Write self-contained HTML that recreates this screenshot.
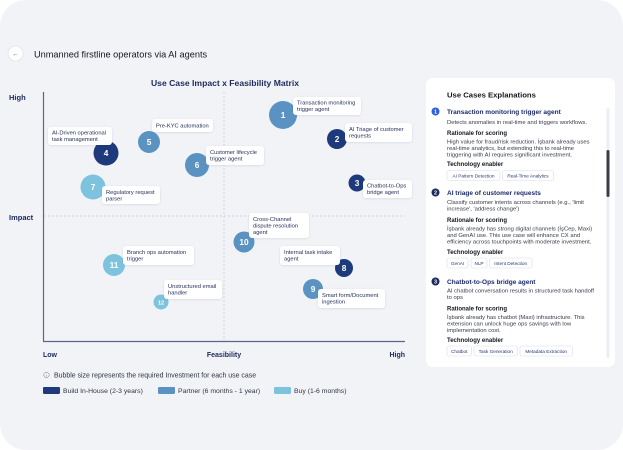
<!DOCTYPE html>
<html><head><meta charset="utf-8"><style>
html,body{margin:0;padding:0;background:#fff;}
svg{display:block;}
text{font-family:"Liberation Sans",sans-serif;}
</style></head><body>
<svg width="623" height="450" viewBox="0 0 623 450" xmlns="http://www.w3.org/2000/svg">
<defs>
<filter id="sh" x="-20%" y="-30%" width="140%" height="170%"><feDropShadow dx="0" dy="0.6" stdDeviation="1" flood-color="#1c2a5c" flood-opacity="0.12"/></filter>
</defs>
<rect x="0" y="0" width="623" height="450" rx="26" fill="#f2f3f7"/>

<!-- header -->
<circle cx="15.5" cy="53.5" r="7.5" fill="#fff" stroke="#dfe2ec" stroke-width="0.8"/>
<text x="15.5" y="56" font-size="6.5" fill="#4a5a9a" text-anchor="middle" font-weight="bold">←</text>
<text x="34" y="57.5" font-size="9.2" fill="#15171f">Unmanned firstline operators via AI agents</text>

<!-- chart title -->
<text x="225" y="86" font-size="8.6" font-weight="bold" fill="#1c2a5c" text-anchor="middle">Use Case Impact x Feasibility Matrix</text>

<!-- grid -->
<line x1="224" y1="92" x2="224" y2="341" stroke="#c5c9d6" stroke-width="0.7" stroke-dasharray="2,2"/>
<line x1="44" y1="216" x2="405" y2="216" stroke="#c5c9d6" stroke-width="0.7" stroke-dasharray="2,2"/>
<line x1="43.5" y1="92" x2="43.5" y2="341.5" stroke="#5d6588" stroke-width="1.2"/>
<line x1="43" y1="341.5" x2="405" y2="341.5" stroke="#5d6588" stroke-width="1.2"/>

<!-- axis labels -->
<text x="9" y="100" font-size="7.5" font-weight="bold" fill="#1c2a5c">High</text>
<text x="9" y="220" font-size="7.5" font-weight="bold" fill="#1c2a5c">Impact</text>
<text x="43" y="357" font-size="7" font-weight="bold" fill="#1c2a5c">Low</text>
<text x="224" y="357" font-size="7" font-weight="bold" fill="#1c2a5c" text-anchor="middle">Feasibility</text>
<text x="405" y="357" font-size="7" font-weight="bold" fill="#1c2a5c" text-anchor="end">High</text>

<!-- bubbles -->
<g>
<circle cx="283" cy="115" r="14" fill="#5a93c2"/>
<circle cx="337" cy="139" r="10" fill="#1e3a7b"/>
<circle cx="357" cy="183" r="8.5" fill="#1e3a7b"/>
<circle cx="106" cy="153" r="12.5" fill="#1e3a7b"/>
<circle cx="149" cy="142" r="11" fill="#5a93c2"/>
<circle cx="197" cy="165" r="12" fill="#5a93c2"/>
<circle cx="93" cy="187" r="12.5" fill="#7ec3de"/>
<circle cx="344" cy="268" r="9" fill="#1e3a7b"/>
<circle cx="313" cy="289" r="10" fill="#5a93c2"/>
<circle cx="244" cy="242" r="10.5" fill="#5a93c2"/>
<circle cx="114" cy="265" r="11" fill="#7ec3de"/>
<circle cx="161" cy="302" r="7.5" fill="#7ec3de"/>
</g>
<g font-weight="bold" fill="#fff" text-anchor="middle" font-size="8.3">
<text x="283" y="118">1</text>
<text x="337" y="142">2</text>
<text x="357" y="186">3</text>
<text x="106" y="156">4</text>
<text x="149" y="145">5</text>
<text x="197" y="168">6</text>
<text x="93" y="190">7</text>
<text x="344" y="271">8</text>
<text x="313" y="292">9</text>
<text x="244" y="245">10</text>
<text x="114" y="268">11</text>
<text x="161" y="304.5" font-size="5.5">12</text>
</g>

<!-- label boxes -->
<g fill="#fff" filter="url(#sh)">
<rect x="293" y="97" width="68" height="18" rx="3"/>
<rect x="345" y="123" width="67" height="19" rx="3"/>
<rect x="363" y="180" width="49" height="18" rx="3"/>
<rect x="48" y="127" width="64" height="18" rx="3"/>
<rect x="152" y="119" width="61" height="13" rx="3"/>
<rect x="206" y="146" width="58" height="19" rx="3"/>
<rect x="102" y="186" width="58" height="18" rx="3"/>
<rect x="249" y="213" width="60" height="25" rx="3"/>
<rect x="123" y="246" width="71" height="19" rx="3"/>
<rect x="164" y="280" width="58" height="19" rx="3"/>
<rect x="280" y="246" width="60" height="19" rx="3"/>
<rect x="318" y="289" width="67" height="19" rx="3"/>
</g>
<g font-size="5.75" fill="#1f2a55">
<text x="297" y="104.5">Transaction monitoring</text>
<text x="297" y="111">trigger agent</text>
<text x="349" y="131">AI Triage of customer</text>
<text x="349" y="137.5">requests</text>
<text x="367" y="187.5">Chatbot-to-Ops</text>
<text x="367" y="194">bridge agent</text>
<text x="52" y="134.5">AI-Driven operational</text>
<text x="52" y="141">task management</text>
<text x="156" y="127.5">Pre-KYC automation</text>
<text x="210" y="154">Customer lifecycle</text>
<text x="210" y="160.5">trigger agent</text>
<text x="106" y="194">Regulatory request</text>
<text x="106" y="200.5">parser</text>
<text x="253" y="221">Cross-Channel</text>
<text x="253" y="227.5">dispute resolution</text>
<text x="253" y="234">agent</text>
<text x="127" y="254">Branch ops automation</text>
<text x="127" y="260.5">trigger</text>
<text x="168" y="288">Unstructured email</text>
<text x="168" y="294.5">handler</text>
<text x="284" y="254">Internal task intake</text>
<text x="284" y="260.5">agent</text>
<text x="322" y="297">Smart form/Document</text>
<text x="322" y="303.5">ingestion</text>
</g>

<!-- legend -->
<circle cx="46.5" cy="375" r="2.7" fill="none" stroke="#777" stroke-width="0.5"/>
<text x="46.5" y="376.8" font-size="3.8" fill="#777" text-anchor="middle">i</text>
<text x="54" y="377.5" font-size="6.95" fill="#2e3442">Bubble size represents the required Investment for each use case</text>
<rect x="43" y="387" width="17" height="7" rx="1.2" fill="#1e3a7b"/>
<text x="63" y="393.2" font-size="6.85" fill="#2e3442">Build In-House (2-3 years)</text>
<rect x="158" y="387" width="17" height="7" rx="1.2" fill="#5a93c2"/>
<text x="178" y="393.2" font-size="6.85" fill="#2e3442">Partner (6 months - 1 year)</text>
<rect x="274" y="387" width="17" height="7" rx="1.2" fill="#7ec3de"/>
<text x="294" y="393.2" font-size="6.85" fill="#2e3442">Buy (1-6 months)</text>

<!-- right panel -->
<rect x="426" y="78" width="189" height="289" rx="7" fill="#fff"/>
<text x="447" y="97.5" font-size="7.7" font-weight="bold" fill="#15171f">Use Cases Explanations</text>
<rect x="606.5" y="108" width="3" height="250" rx="1.5" fill="#eceef3"/>
<rect x="606.5" y="150" width="3" height="47" rx="1.5" fill="#3a3d47"/>

<g font-size="5.85" fill="#363b48">
<!-- item 1 -->
<circle cx="435.5" cy="111.5" r="4" fill="#2d5fe0"/>
<text x="435.5" y="113.6" font-size="5.5" font-weight="bold" fill="#fff" text-anchor="middle">1</text>
<text x="447" y="114" font-size="6.5" font-weight="bold" fill="#1c2a6c">Transaction monitoring trigger agent</text>
<text x="447" y="124">Detects anomalies in real-time and triggers workflows.</text>
<text x="447" y="135" font-size="6" font-weight="bold" fill="#15171f">Rationale for scoring</text>
<text x="447" y="143.5">High value for fraud/risk reduction. İşbank already uses</text>
<text x="447" y="150">real-time analytics, but extending this to real-time</text>
<text x="447" y="156.5">triggering with AI requires significant investment.</text>
<text x="447" y="166" font-size="6" font-weight="bold" fill="#15171f">Technology enabler</text>
<rect x="447" y="170.5" width="53" height="10" rx="2" fill="#fff" stroke="#d8dcea" stroke-width="0.6"/>
<text x="473.5" y="177.3" font-size="4.7" fill="#2a3570" text-anchor="middle">AI Pattern Detection</text>
<rect x="502.5" y="170.5" width="51" height="10" rx="2" fill="#fff" stroke="#d8dcea" stroke-width="0.6"/>
<text x="528" y="177.3" font-size="4.7" fill="#2a3570" text-anchor="middle">Real-Time Analytics</text>

<!-- item 2 -->
<circle cx="435.5" cy="192.5" r="4" fill="#1c2a5c"/>
<text x="435.5" y="194.6" font-size="5.5" font-weight="bold" fill="#fff" text-anchor="middle">2</text>
<text x="447" y="194.8" font-size="6.5" font-weight="bold" fill="#1c2a6c">AI triage of customer requests</text>
<text x="447" y="204">Classify customer intents across channels (e.g., 'limit</text>
<text x="447" y="210.5">increase', 'address change')</text>
<text x="447" y="222" font-size="6" font-weight="bold" fill="#15171f">Rationale for scoring</text>
<text x="447" y="230.5">İşbank already has strong digital channels (İşCep, Maxi)</text>
<text x="447" y="237">and GenAI use. This use case will enhance CX and</text>
<text x="447" y="243.5">efficiency across touchpoints with moderate investment.</text>
<text x="447" y="254" font-size="6" font-weight="bold" fill="#15171f">Technology enabler</text>
<rect x="447" y="258" width="21" height="10" rx="2" fill="#fff" stroke="#d8dcea" stroke-width="0.6"/>
<text x="457.5" y="264.8" font-size="4.7" fill="#2a3570" text-anchor="middle">GenAI</text>
<rect x="471" y="258" width="16" height="10" rx="2" fill="#fff" stroke="#d8dcea" stroke-width="0.6"/>
<text x="479" y="264.8" font-size="4.7" fill="#2a3570" text-anchor="middle">NLP</text>
<rect x="489.5" y="258" width="42.5" height="10" rx="2" fill="#fff" stroke="#d8dcea" stroke-width="0.6"/>
<text x="510.7" y="264.8" font-size="4.7" fill="#2a3570" text-anchor="middle">Intent Detection</text>

<!-- item 3 -->
<circle cx="435.5" cy="281.5" r="4" fill="#1c2a5c"/>
<text x="435.5" y="283.6" font-size="5.5" font-weight="bold" fill="#fff" text-anchor="middle">3</text>
<text x="447" y="283.8" font-size="6.5" font-weight="bold" fill="#1c2a6c">Chatbot-to-Ops bridge agent</text>
<text x="447" y="292.5">AI chatbot conversation results in structured task handoff</text>
<text x="447" y="299">to ops</text>
<text x="447" y="310.5" font-size="6" font-weight="bold" fill="#15171f">Rationale for scoring</text>
<text x="447" y="319">İşbank already has chatbot (Maxi) infrastructure. This</text>
<text x="447" y="325.5">extension can unlock huge ops savings with low</text>
<text x="447" y="332">implementation cost.</text>
<text x="447" y="342" font-size="6" font-weight="bold" fill="#15171f">Technology enabler</text>
<rect x="447" y="346" width="24.5" height="10" rx="2" fill="#fff" stroke="#d8dcea" stroke-width="0.6"/>
<text x="459.2" y="352.8" font-size="4.7" fill="#2a3570" text-anchor="middle">Chatbot</text>
<rect x="474" y="346" width="43.5" height="10" rx="2" fill="#fff" stroke="#d8dcea" stroke-width="0.6"/>
<text x="495.7" y="352.8" font-size="4.7" fill="#2a3570" text-anchor="middle">Task Generation</text>
<rect x="520" y="346" width="52.5" height="10" rx="2" fill="#fff" stroke="#d8dcea" stroke-width="0.6"/>
<text x="546.2" y="352.8" font-size="4.7" fill="#2a3570" text-anchor="middle">Metadata Extraction</text>
</g>
</svg>
</body></html>
